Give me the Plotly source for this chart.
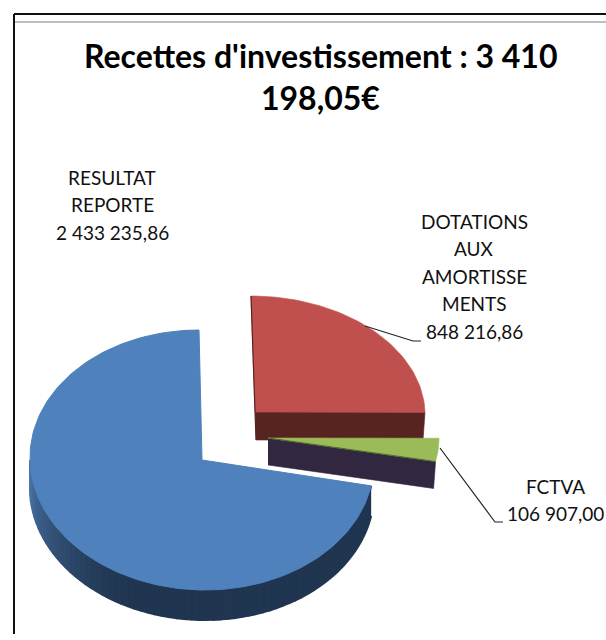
import math
import numpy as np
import plotly.graph_objects as go

# ---- data ----
categories = ["DOTATIONS AUX AMORTISSEMENTS", "FCTVA", "RESULTAT REPORTE"]
values = [848216.86, 106907.00, 2433235.86]
value_labels = ["848 216,86", "106 907,00", "2 433 235,86"]
label_lines = [["DOTATIONS", "AUX", "AMORTISSE", "MENTS"], ["FCTVA"], ["RESULTAT", "REPORTE"]]
title_lines = ["Recettes d'investissement : 3 410", "198,05€"]

# ---- styles and placement (pixel space of the chart frame) ----
top_colors = ["#C0504D", "#9BBB59", "#4F81BD"]
wall_colors = ["#582420", "#322741", "#1F3550"]
centers = [(255, 412), (268, 438), (202, 460)]
radii = [(170, 116), (171, 118), (172, 130)]
skews = [4, 0, 3]
depths = [28, 27, 30]
label_centers = [(474, 221), (555, 486), (112, 177)]
LINE_STEP = 27.5
FONT = "Lato"

fractions = np.array(values) / sum(values)
edges = np.concatenate([[0], np.cumsum(fractions)]) * 2 * math.pi


def rim(i, t):
    cx, cy = centers[i]
    rx, ry = radii[i]
    return cx + rx * np.sin(t) - skews[i] * np.cos(t), cy - ry * np.cos(t)


def poly(fig, x, y, color, width=0.6):
    fig.add_trace(go.Scatter(x=x, y=y, mode="lines", fill="toself", fillcolor=color,
                             line=dict(color=color, width=width),
                             hoverinfo="skip", showlegend=False))


def mix(a, b, f):
    ca = [int(a[k:k + 2], 16) for k in (1, 3, 5)]
    cb = [int(b[k:k + 2], 16) for k in (1, 3, 5)]
    return "rgb(%d,%d,%d)" % tuple(round(p + (q - p) * f) for p, q in zip(ca, cb))


fig = go.Figure()

# red slice
i = 0
t = np.linspace(edges[0], edges[1], 60)
rx, ry = rim(i, t)
cx, cy = centers[i]
d = depths[i]
poly(fig, [cx, rx[-1], rx[-1] - 2, cx + 1], [cy, ry[-1], ry[-1] + d, cy + d], wall_colors[i])
poly(fig, [cx, *rx, cx], [cy, *ry, cy], top_colors[i])
fig.add_trace(go.Scatter(x=[rx[0], cx, cx + 1], y=[ry[0], cy, cy + d], mode="lines",
                         line=dict(color=wall_colors[i], width=1.2),
                         hoverinfo="skip", showlegend=False))

# green slice
i = 1
t = np.linspace(edges[1], edges[2], 12)
rx, ry = rim(i, t)
cx, cy = centers[i]
d = depths[i]
poly(fig, [cx, rx[-1], rx[-1] - 2, cx], [cy, ry[-1], ry[-1] + d, cy + d], wall_colors[i])
poly(fig, [cx, *rx, cx], [cy, *ry, cy], top_colors[i])
fig.add_trace(go.Scatter(x=[cx, rx[-1]], y=[cy, ry[-1]], mode="lines",
                         line=dict(color="#4F6B2A", width=1.2),
                         hoverinfo="skip", showlegend=False))

# blue slice: curved wall with shading, then the top
i = 2
wall_t = np.linspace(edges[2], 1.5 * math.pi, 70)
d = depths[i]
for a, b in zip(wall_t[:-1], wall_t[1:]):
    xa, ya = rim(i, a)
    xb, yb = rim(i, b)
    shade = max(0.0, (math.degrees(b) - 205) / 65)
    color = mix(wall_colors[i], "#4A74A6", shade ** 1.4)
    poly(fig, [xa, xb, xb, xa], [ya, yb, yb + d, ya + d], color, width=2)
t = np.linspace(edges[2], edges[3], 180)
rx, ry = rim(i, t)
cx, cy = centers[i]
poly(fig, [cx, *rx, cx], [cy, *ry, cy], top_colors[i], width=1)

# text
ann = []
for k, line in enumerate(title_lines):
    ann.append(dict(x=320, y=55 + 42 * k, text=f"<b>{line}</b>", showarrow=False,
                    xanchor="center", yanchor="middle",
                    font=dict(family=FONT, size=32, color="#000000")))
for k in range(3):
    lx, ly = label_centers[k]
    for j, line in enumerate(label_lines[k] + [value_labels[k]]):
        ann.append(dict(x=lx, y=ly + j * LINE_STEP, text=line, showarrow=False,
                        xanchor="center", yanchor="middle",
                        font=dict(family=FONT, size=19, color="#111111")))

shapes = [
    dict(type="line", x0=14, x1=606, y0=14, y1=14, line=dict(color="#111111", width=2)),
    dict(type="line", x0=14, x1=606, y0=22, y1=22, line=dict(color="#AAAAAA", width=1.5)),
    dict(type="line", x0=14, x1=14, y0=14, y1=634, line=dict(color="#111111", width=2)),
    dict(type="path", path="M365,326 L413,341 L421,341", line=dict(color="#222222", width=1.2)),
    dict(type="path", path="M440,448 L495,522 L503,522", line=dict(color="#222222", width=1.2)),
]

fig.update_layout(
    width=606, height=640, autosize=False,
    margin=dict(l=0, r=0, t=0, b=0),
    paper_bgcolor="white", plot_bgcolor="white",
    xaxis=dict(range=[0, 606], visible=False, fixedrange=True),
    yaxis=dict(range=[640, 0], visible=False, fixedrange=True),
    annotations=ann, shapes=shapes, showlegend=False,
)
fig.write_html("out.html", config={"displayModeBar": False},
               post_script="document.body.style.margin='0';document.documentElement.style.overflow='hidden';")
